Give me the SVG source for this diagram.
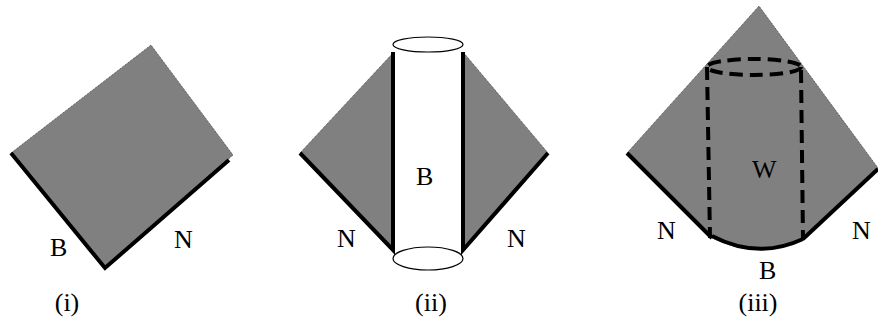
<svg xmlns="http://www.w3.org/2000/svg" width="878" height="322" viewBox="0 0 878 322">
<style>
.sheet{fill:#808080;stroke:#333;stroke-width:0.8;stroke-dasharray:1 1}
.thick{fill:none;stroke:#000;stroke-width:4;stroke-linejoin:miter}
.thin{fill:#fff;stroke:#000;stroke-width:1.2}
.dash{fill:none;stroke:#000;stroke-width:4;stroke-dasharray:13 7}
.lbl{font-family:"Liberation Serif","Times New Roman",serif;font-size:26px;fill:#000}
</style>
<rect width="878" height="322" fill="#fff"/>
<g id="panel-i">
  <polygon class="sheet" points="11,153 151,45 233,155 105,268"/>
  <polyline class="thick" points="11,153 105,268 229,160"/>
  <text class="lbl" x="50" y="256">B</text>
  <text class="lbl" x="174" y="248">N</text>
  <text class="lbl" x="67" y="311" text-anchor="middle">(i)</text>
</g>
<g id="panel-ii">
  <polygon class="sheet" points="300,153 393,53 393,252"/>
  <polygon class="sheet" points="463,52 548,153 463,252"/>
  <rect x="393" y="45" width="70" height="213" fill="#fff"/>
  <ellipse class="thin" cx="428" cy="44.5" rx="35" ry="7.5"/>
  <ellipse class="thin" cx="428" cy="258.5" rx="35" ry="11.5"/>
  <polyline class="thick" points="300,153 393,250 393,52"/>
  <polyline class="thick" points="548,153 463,250 463,52"/>
  <text class="lbl" x="416" y="185">B</text>
  <text class="lbl" x="337" y="247">N</text>
  <text class="lbl" x="507" y="247">N</text>
  <text class="lbl" x="431" y="311" text-anchor="middle">(ii)</text>
</g>
<g id="panel-iii">
  <path class="sheet" d="M759,6 L627,153 L712,238 Q758,260 803,239 L878,168 Z"/>
  <polyline class="thick" points="627,153 712,238"/>
  <path class="thick" d="M712,236 Q758,260 803,239"/>
  <polyline class="thick" points="803,239 878,169"/>
  <ellipse class="dash" cx="754" cy="67" rx="47" ry="8"/>
  <line class="dash" x1="707" y1="67" x2="710" y2="238"/>
  <line class="dash" x1="801" y1="70" x2="803" y2="240"/>
  <text class="lbl" x="752" y="178">W</text>
  <text class="lbl" x="657" y="239">N</text>
  <text class="lbl" x="852" y="239">N</text>
  <text class="lbl" x="759" y="279">B</text>
  <text class="lbl" x="758" y="311" text-anchor="middle">(iii)</text>
</g>
<g id="connectors"/>
</svg>
